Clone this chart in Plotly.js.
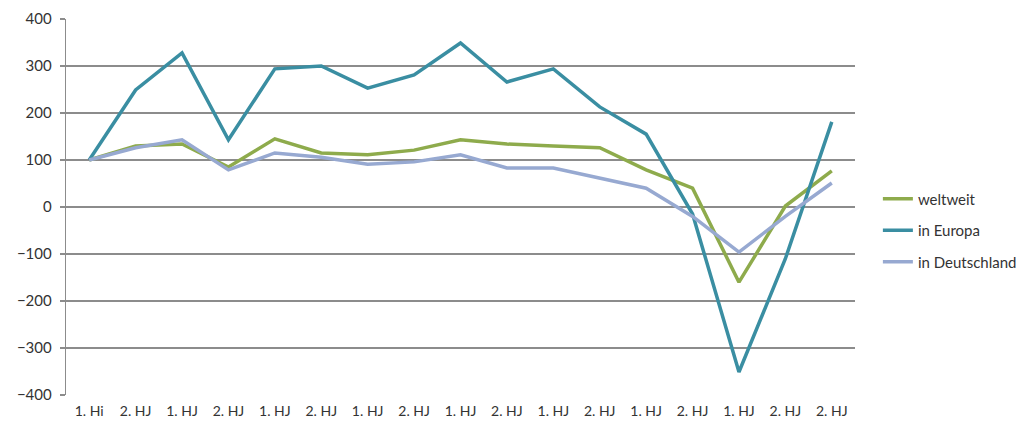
<!DOCTYPE html>
<html>
<head>
<meta charset="utf-8">
<script src="https://cdn.plot.ly/plotly-3.0.1.min.js"></script>
<style>html,body{margin:0;padding:0;background:#fff;}#chart{width:1035px;height:425px;}</style>
</head>
<body>
<div id="chart"></div>
<script>
const tickLabels = ["1. Hi","2. HJ","1. HJ","2. HJ","1. HJ","2. HJ","1. HJ","2. HJ","1. HJ","2. HJ","1. HJ","2. HJ","1. HJ","2. HJ","1. HJ","2. HJ","2. HJ"];
const positions = tickLabels.map((_, i) => i);
const weltweit = [100,130,134,85,145,115,111,121,143,134,130,126,79,40,-160,2,77];
const europa = [100,249,328,143,294,300,253,281,349,266,294,213,155,-15,-351,-110,181];
const deutschland = [100,126,143,79,115,106,91,96,111,83,83,62,40,-20,-96,-20,51];
const boundaries = tickLabels.concat([""]).map((_, i) => i - 0.5);

const font = {family: "Lato, 'Open Sans', sans-serif", size: 14, color: "#333"};
function tr(name, y, color, g) {
  return {type: "scatter", mode: "lines", name: name, x: positions, y: y,
    line: {color: color, width: 3.5}, legendgroup: g};
}
const data = [
  tr("weltweit", weltweit, "#8eab4c", "a"),
  tr("in Europa", europa, "#3a8ea2", "b"),
  tr("in Deutschland", deutschland, "#97a9d1", "c")
];
const layout = {
  width: 1035, height: 425,
  margin: {l: 66, r: 180, t: 19, b: 30},
  paper_bgcolor: "#fff", plot_bgcolor: "#fff",
  font: font,
  showlegend: true,
  legend: {x: 1.029, xanchor: "left", y: 0.565, yanchor: "top",
    font: Object.assign({}, font, {size: 15}),
    tracegroupgap: 9, bgcolor: "rgba(0,0,0,0)"},
  xaxis: {range: [-0.5, 16.5], tickmode: "array", tickvals: positions, ticktext: tickLabels,
    showgrid: false, zeroline: false, showline: false, ticks: "", ticklen: 0,
    ticklabelstandoff: 6, tickfont: font, fixedrange: true},
  xaxis2: {overlaying: "x", matches: "x", anchor: "free", position: 0.5,
    range: [-0.5, 16.5], tickmode: "array", tickvals: boundaries, ticktext: boundaries.map(() => ""),
    showticklabels: false, showgrid: false, zeroline: false, showline: true,
    linecolor: "#8c8c8c", linewidth: 1.3, ticks: "outside", ticklen: 5, tickcolor: "#8c8c8c", tickwidth: 1.3},
  yaxis: {range: [-400, 400], dtick: 100, tick0: 0, showgrid: true, gridcolor: "#8c8c8c", gridwidth: 1.3,
    zeroline: false, showline: true, linecolor: "#8c8c8c", linewidth: 1.3,
    ticks: "outside", ticklen: 5, tickcolor: "#8c8c8c", tickwidth: 1.3,
    ticklabelstandoff: 5,
    tickfont: Object.assign({}, font, {size: 15}), fixedrange: true}
};
Plotly.newPlot("chart", data, layout, {displayModeBar: false, staticPlot: true});
</script>
</body>
</html>
